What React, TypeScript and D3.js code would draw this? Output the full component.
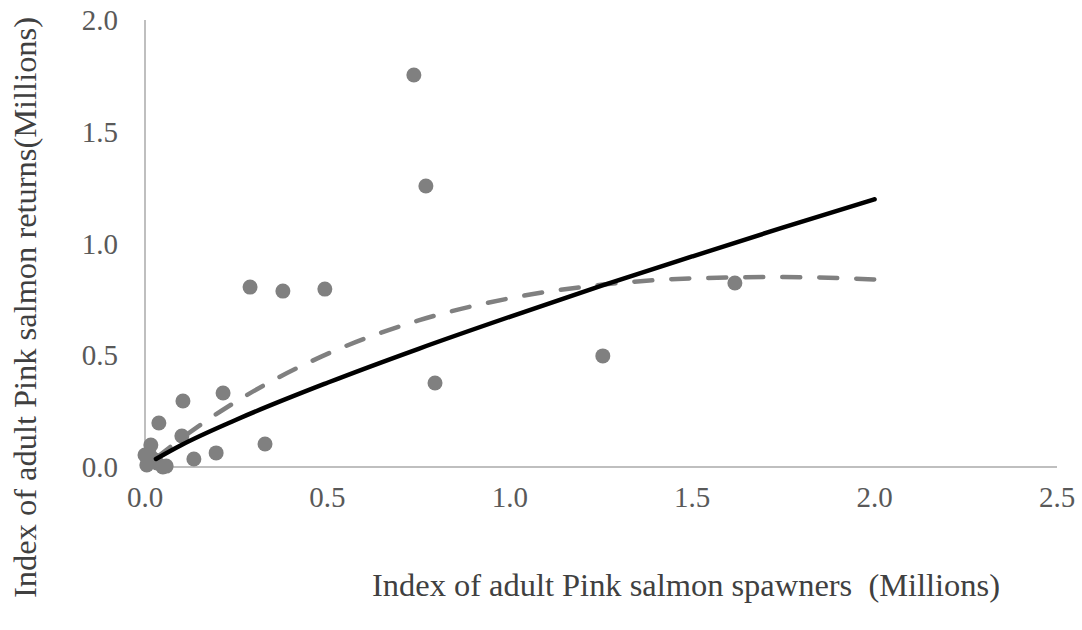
import React from "react";
import * as d3 from "d3";

// Spawners (x) and returns (y), in millions
const spawners = [0.737, 0.770, 0.288, 0.378, 0.493, 1.617, 1.255, 0.795, 0.104, 0.214, 0.038, 0.101, 0.016, 0.134, 0.195, 0.329, 0.000, 0.008, 0.027, 0.049, 0.005, 0.014, 0.033, 0.058];
const returns = [1.754, 1.257, 0.805, 0.787, 0.796, 0.823, 0.497, 0.376, 0.295, 0.331, 0.197, 0.139, 0.098, 0.036, 0.063, 0.103, 0.054, 0.018, 0.031, 0.000, 0.009, 0.050, 0.018, 0.004];

// Fitted curves, sampled along the spawner axis
const fitX = [0.03, 0.1, 0.25, 0.5, 0.75, 1.0, 1.25, 1.5, 1.75, 2.0];
const solidFitY = [0.036, 0.0985, 0.2115, 0.377, 0.529, 0.672, 0.81, 0.942, 1.072, 1.198];
const dashedFitY = [0.04, 0.128, 0.293, 0.506, 0.656, 0.755, 0.815, 0.844, 0.85, 0.839];

const xTicks = [0, 0.5, 1.0, 1.5, 2.0, 2.5];
const yTicks = [0, 0.5, 1.0, 1.5, 2.0];

const W = 1082;
const H = 630;

export default function App() {
  const x = d3.scaleLinear().domain([0, 2.5]).range([145, 1057]);
  const y = d3.scaleLinear().domain([0, 2.0]).range([467, 20]);

  const line = d3
    .line<number>()
    .x((_, i) => x(fitX[i]))
    .y((v) => y(v))
    .curve(d3.curveMonotoneX);

  const font = "'Liberation Serif', 'Times New Roman', serif";

  return (
    <svg
      width={W}
      height={H}
      style={{ position: "absolute", left: 0, top: 0, background: "#fff" }}
    >
      {/* axes */}
      <line x1={x(0)} x2={x(0)} y1={y(0)} y2={y(2.0)} stroke="#bfbfbf" strokeWidth={2} />
      <line x1={x(0)} x2={x(2.5)} y1={y(0)} y2={y(0)} stroke="#bfbfbf" strokeWidth={2} />

      {yTicks.map((t) => (
        <text
          key={"y" + t}
          x={118}
          y={y(t)}
          dy="0.35em"
          textAnchor="end"
          fontFamily={font}
          fontSize={29}
          fill="#595959"
        >
          {t.toFixed(1)}
        </text>
      ))}
      {xTicks.map((t) => (
        <text
          key={"x" + t}
          x={x(t)}
          y={497}
          dy="0.35em"
          textAnchor="middle"
          fontFamily={font}
          fontSize={29}
          fill="#595959"
        >
          {t.toFixed(1)}
        </text>
      ))}

      {/* points */}
      {spawners.map((s, i) => (
        <circle key={i} cx={x(s)} cy={y(returns[i])} r={7.5} fill="#808080" />
      ))}

      {/* fitted curves */}
      <path
        d={line(dashedFitY) || ""}
        fill="none"
        stroke="#808080"
        strokeWidth={4.5}
        strokeDasharray="18 19"
        strokeLinecap="round"
      />
      <path
        d={line(solidFitY) || ""}
        fill="none"
        stroke="#000"
        strokeWidth={4.5}
        strokeLinecap="round"
      />

      {/* axis titles */}
      <text
        x={372}
        y={585}
        dy="0.35em"
        fontFamily={font}
        fontSize={31}
        fill="#404040"
        textLength={628}
        lengthAdjust="spacingAndGlyphs"
        style={{ whiteSpace: "pre" }}
      >
        {"Index of adult Pink salmon spawners  (Millions)"}
      </text>
      <text
        transform={`translate(25, ${(17 + 598) / 2}) rotate(-90)`}
        dy="0.35em"
        textAnchor="middle"
        fontFamily={font}
        fontSize={31}
        fill="#404040"
        textLength={581}
        lengthAdjust="spacingAndGlyphs"
      >
        Index of adult Pink salmon returns(Millions)
      </text>
    </svg>
  );
}
